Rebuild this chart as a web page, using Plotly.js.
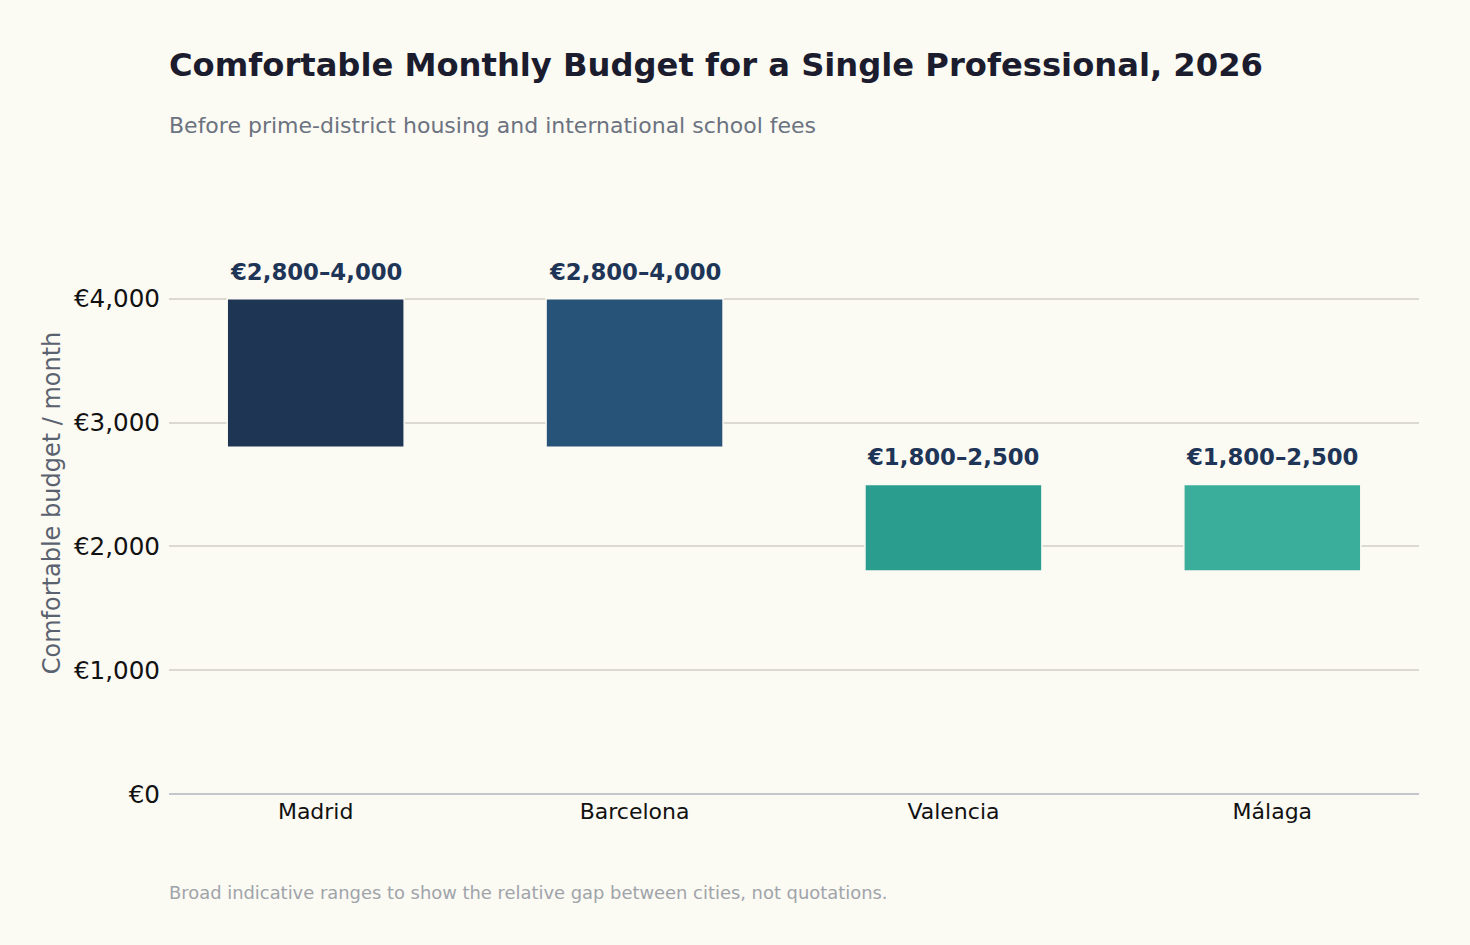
<!DOCTYPE html>
<html>
<head>
<meta charset="utf-8">
<script src="https://cdn.plot.ly/plotly-3.0.1.min.js"></script>
<style>
  html, body { margin: 0; padding: 0; background: #fbfaf3; }
  #chart { width: 1470px; height: 945px; }
</style>
</head>
<body>
<div id="chart"></div>
<script>
// Budget ranges per city (EUR / month)
const cities = ['Madrid', 'Barcelona', 'Valencia', 'Málaga'];
const lowValues = [2800, 2800, 1800, 1800];
const highValues = [4000, 4000, 2500, 2500];
const rangeLabels = ['€2,800–4,000', '€2,800–4,000', '€1,800–2,500', '€1,800–2,500'];
const barColors = ['#1e3553', '#285378', '#2a9d8f', '#3aae9b'];
const yTicks = [0, 1000, 2000, 3000, 4000];

const BG = '#fbfaf3';
const FONT = 'DejaVu Sans, Verdana, sans-serif';
const TOP = 212;   // top margin (px)
const BOTTOM = 151;

const trace = {
    type: 'bar',
    x: cities,
    base: lowValues,
    y: highValues.map((h, i) => h - lowValues[i]),
    width: 0.555,
    marker: {
        color: barColors,
        line: { color: BG, width: 1.5 },
    },
    hoverinfo: 'skip',
};

const annotations = cities.map((c, i) => ({
    x: c,
    y: highValues[i],
    xref: 'x',
    yref: 'y',
    text: '<b>' + rangeLabels[i] + '</b>',
    showarrow: false,
    yanchor: 'bottom',
    yshift: 12,
    font: { family: FONT, size: 22.8, color: '#1e3557' },
}));

annotations.push(
    {
        xref: 'paper', yref: 'paper', x: 0, y: 1,
        xanchor: 'left', yanchor: 'middle',
        xshift: -2,
        yshift: TOP - 65,
        text: '<b>Comfortable Monthly Budget for a Single Professional, 2026</b>',
        showarrow: false,
        font: { family: FONT, size: 32.2, color: '#1b1c2e' },
    },
    {
        xref: 'paper', yref: 'paper', x: 0, y: 1,
        xanchor: 'left', yanchor: 'middle',
        xshift: -2,
        yshift: TOP - 125,
        text: 'Before prime-district housing and international school fees',
        showarrow: false,
        font: { family: FONT, size: 22, color: '#6b7280' },
    },
    {
        xref: 'paper', yref: 'paper', x: 0, y: 0,
        xanchor: 'left', yanchor: 'middle',
        xshift: -2,
        yshift: (945 - BOTTOM) - 892,
        text: 'Broad indicative ranges to show the relative gap between cities, not quotations.',
        showarrow: false,
        font: { family: FONT, size: 17.9, color: '#a0a4aa' },
    }
);

const layout = {
    width: 1470,
    height: 945,
    paper_bgcolor: BG,
    plot_bgcolor: BG,
    font: { family: FONT, color: '#111111' },
    margin: { l: 169, r: 51, t: TOP, b: BOTTOM },
    showlegend: false,
    xaxis: {
        range: [-0.46, 3.46],
        showgrid: false,
        showline: false,
        zeroline: false,
        ticks: '',
        ticklabelstandoff: 2,
        tickfont: { family: FONT, size: 22, color: '#111111' },
        fixedrange: true,
    },
    yaxis: {
        range: [0, 4700],
        tickvals: yTicks,
        ticktext: yTicks.map(v => '€' + v.toLocaleString('en-US')),
        showgrid: true,
        gridcolor: '#dcdad0',
        gridwidth: 2,
        zeroline: true,
        zerolinecolor: '#c3c7cb',
        zerolinewidth: 2,
        showline: false,
        ticks: '',
        ticklabelstandoff: 8,
        tickfont: { family: FONT, size: 24.6, color: '#111111' },
        title: {
            text: 'Comfortable budget / month',
            font: { family: FONT, size: 24, color: '#5a6270' },
            standoff: 6,
        },
        automargin: false,
        fixedrange: true,
    },
    annotations: annotations,
};

Plotly.newPlot('chart', [trace], layout, { displayModeBar: false, staticPlot: true });
</script>
</body>
</html>
